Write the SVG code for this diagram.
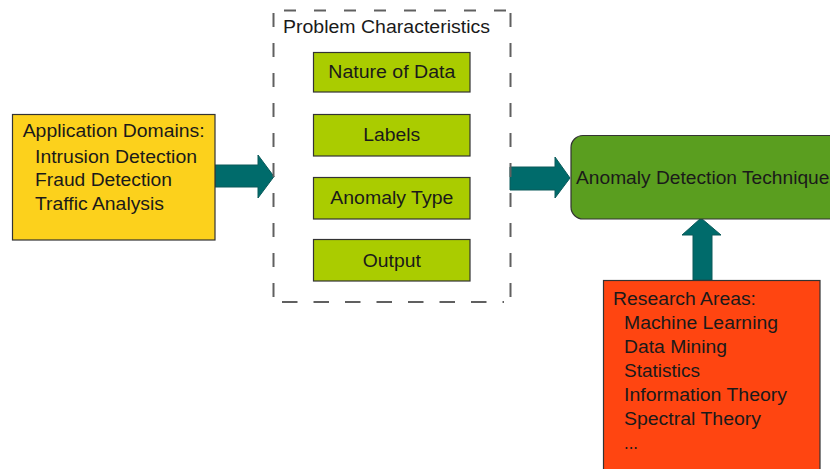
<svg xmlns="http://www.w3.org/2000/svg" width="830" height="469" viewBox="0 0 830 469">
<style>
text{font-family:"Liberation Sans",Arial,sans-serif;font-size:17.5px;fill:#1a1a1a}
.box{stroke:#333;stroke-width:1.2}
.arrow{fill:#006b6b;stroke:#0a5a5a;stroke-width:1}
.c{text-anchor:middle}
.dash{stroke:#606060;stroke-width:2;fill:none}
</style>
<rect width="830" height="469" fill="#fff"/>
<g id="connectors">
<polygon class="arrow" points="215,165 258,165 258,155 274,176.5 258,198 258,187 215,187"/>
<polygon class="arrow" points="510,167 555,167 555,157 570,178 555,198 555,190 510,190"/>
<polygon class="arrow" points="693,280 693,235 682,235 701,218 721,235 712,235 712,280"/>
</g>
<g id="app-domains">
<rect class="box" x="12.5" y="114.5" width="202.5" height="125.5" fill="#fcd11c"/>
<text x="22.7" y="137" textLength="182" lengthAdjust="spacingAndGlyphs">Application Domains:</text>
<text x="35" y="163" textLength="162" lengthAdjust="spacingAndGlyphs">Intrusion Detection</text>
<text x="35" y="186" textLength="137" lengthAdjust="spacingAndGlyphs">Fraud Detection</text>
<text x="35" y="210" textLength="129" lengthAdjust="spacingAndGlyphs">Traffic Analysis</text>
</g>
<g id="problem-characteristics">
<line class="dash" x1="284" y1="10.5" x2="506" y2="10.5" stroke-dasharray="12 18"/>
<line class="dash" x1="282" y1="302" x2="504" y2="302" stroke-dasharray="15.5 16"/>
<line class="dash" x1="273.5" y1="13" x2="273.5" y2="300" stroke-dasharray="14 16"/>
<line class="dash" x1="510.5" y1="13" x2="510.5" y2="300" stroke-dasharray="14 16"/>
<text x="283" y="33" textLength="207" lengthAdjust="spacingAndGlyphs">Problem Characteristics</text>
</g>
<g id="nature-of-data">
<rect class="box" x="313.5" y="52.5" width="156.5" height="39.5" fill="#aacc00"/>
<text class="c" x="391.8" y="78" textLength="127" lengthAdjust="spacingAndGlyphs">Nature of Data</text>
</g>
<g id="labels">
<rect class="box" x="313.5" y="114.5" width="156.5" height="41.5" fill="#aacc00"/>
<text class="c" x="391.8" y="141" textLength="57" lengthAdjust="spacingAndGlyphs">Labels</text>
</g>
<g id="anomaly-type">
<rect class="box" x="313.5" y="177.5" width="156.5" height="41.5" fill="#aacc00"/>
<text class="c" x="391.8" y="203.5" textLength="123" lengthAdjust="spacingAndGlyphs">Anomaly Type</text>
</g>
<g id="output">
<rect class="box" x="313.5" y="239.5" width="156.5" height="41.5" fill="#aacc00"/>
<text class="c" x="391.8" y="267" textLength="58" lengthAdjust="spacingAndGlyphs">Output</text>
</g>
<g id="techniques">
<rect class="box" x="571" y="135.5" width="280" height="83.5" rx="12" fill="#5a9e1f"/>
<text x="576" y="184" textLength="263" lengthAdjust="spacingAndGlyphs">Anomaly Detection Techniques</text>
</g>
<g id="research-areas">
<rect class="box" x="603.5" y="280.5" width="216.5" height="200" fill="#ff4511"/>
<text x="613" y="305" textLength="143" lengthAdjust="spacingAndGlyphs">Research Areas:</text>
<text x="624" y="329" textLength="154" lengthAdjust="spacingAndGlyphs">Machine Learning</text>
<text x="624" y="353" textLength="103" lengthAdjust="spacingAndGlyphs">Data Mining</text>
<text x="624" y="377" textLength="76" lengthAdjust="spacingAndGlyphs">Statistics</text>
<text x="624" y="401" textLength="163" lengthAdjust="spacingAndGlyphs">Information Theory</text>
<text x="624" y="425" textLength="137" lengthAdjust="spacingAndGlyphs">Spectral Theory</text>
<text x="624" y="449" textLength="14" lengthAdjust="spacingAndGlyphs">...</text>
</g>
</svg>
